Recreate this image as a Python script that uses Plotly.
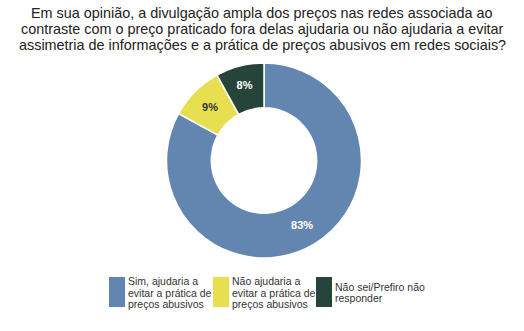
import plotly.graph_objects as go

labels = ["Sim, ajudaria a<br>evitar a prática de<br>preços abusivos",
          "Não ajudaria a<br>evitar a prática de<br>preços abusivos",
          "Não sei/Prefiro não<br>responder"]
values = [83, 9, 8]
colors = ["#6286B0", "#E8DF50", "#27443A"]
text_colors = ["white", "#333333", "white"]

title_lines = ["Em sua opinião, a divulgação ampla dos preços nas redes associada ao",
               "contraste com o preço praticado fora delas ajudaria ou não ajudaria a evitar",
               "assimetria de informações e a prática de preços abusivos em redes sociais?"]

W, H = 524, 331

fig = go.Figure(go.Pie(
    labels=labels, values=values, hole=0.54, sort=False, direction="clockwise",
    marker=dict(colors=colors, line=dict(color="white", width=1.5)),
    texttemplate="<b>%{value}%</b>",
    textfont=dict(color=text_colors, size=11, family="Arial"),
    textposition="inside", insidetextorientation="horizontal",
    domain=dict(x=[4 / W, 1], y=[1 - 258 / H, 1 - 63 / H]),
    showlegend=False,
))

# custom legend (tall swatches as in the reference)
legend_x = [109, 213, 316]
line_h = 11.8
for lab, col, lx in zip(labels, colors, legend_x):
    fig.add_shape(type="rect", xref="paper", yref="paper",
                  x0=lx / W, x1=(lx + 16) / W, y0=1 - 307 / H, y1=1 - 277 / H,
                  fillcolor=col, line=dict(width=0))
    parts = lab.split("<br>")
    n = len(parts)
    for i, p in enumerate(parts):
        yc = 292.5 + (i - (n - 1) / 2) * line_h
        fig.add_annotation(text=p, xref="paper", yref="paper",
                           x=(lx + 18) / W, y=1 - yc / H, xanchor="left", yanchor="middle",
                           align="left", showarrow=False, borderpad=0,
                           font=dict(size=10.5, color="#333333", family="Arial"))

for i, t in enumerate(title_lines):
    fig.add_annotation(text=t, xref="paper", yref="paper", x=0.5, y=1 - (13 + 16 * i) / H,
                       xanchor="center", yanchor="middle", showarrow=False, borderpad=0,
                       font=dict(size=14.4, color="#222222", family="Arial"))

fig.update_layout(
    width=W, height=H, margin=dict(l=0, r=0, t=0, b=0),
    paper_bgcolor="white", font=dict(family="Arial", color="#333333"),
)
fig.write_html("out.html")
